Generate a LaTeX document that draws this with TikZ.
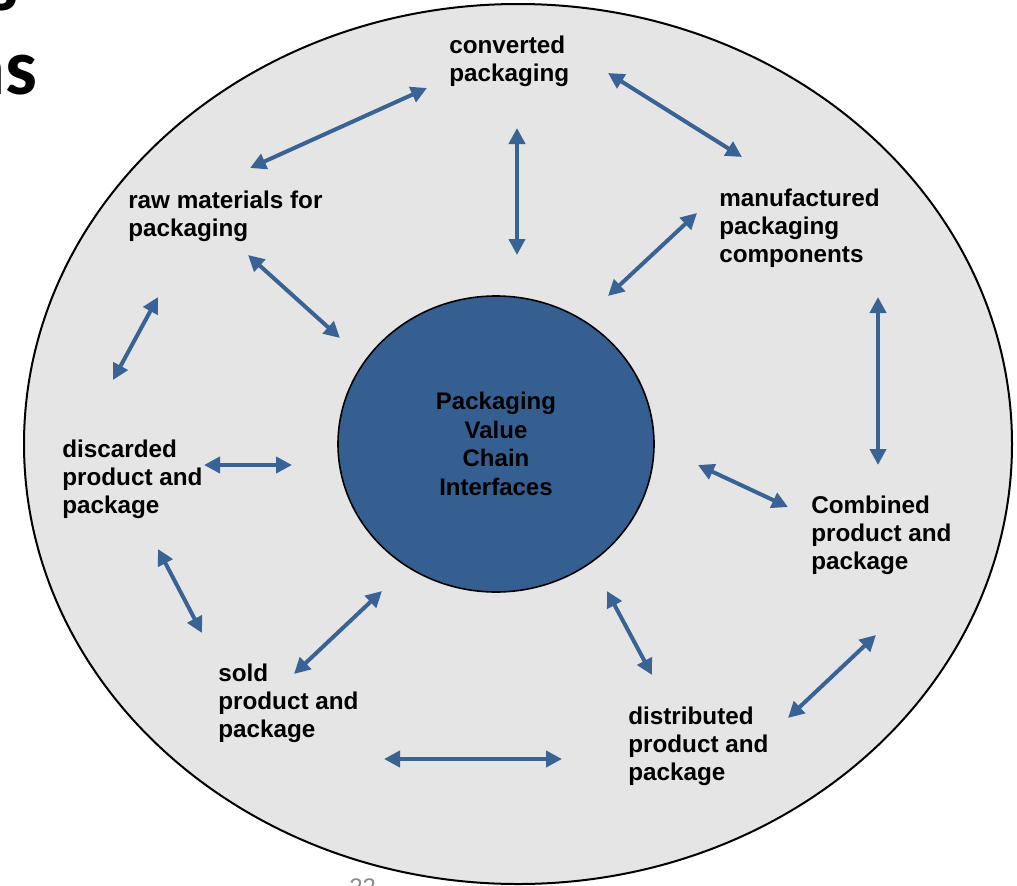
\documentclass[tikz,border=0pt]{standalone}
\usepackage{fontspec}
\setmainfont{Liberation Sans}
\newfontfamily\titlefont{Carlito}
\usepackage{tikz}
\usetikzlibrary{arrows.meta}
\usetikzlibrary{shapes.geometric}
\definecolor{ringgray}{RGB}{229,229,229}
\definecolor{chainblue}{RGB}{54,95,145}
\definecolor{arrowblue}{RGB}{57,99,149}

\begin{document}
\begin{tikzpicture}[x=0.75pt,y=-0.75pt]
	\clip (0,0) rectangle (1017,885);

	\begin{scope}[every node/.style={anchor=base east,inner sep=0pt,font=\titlefont\bfseries\fontsize{60}{60}\selectfont}]
		\node (titleone) at (19,11) {s};
		\node (titletwo) at (38,94) {ns};
	\end{scope}
	\node [anchor=base west,inner sep=0pt,text=black!45,font=\fontsize{18}{18}\selectfont] (pageno) at (349,895) {22};

	\draw [fill=ringgray,line width=1.5pt] (518,444) ellipse [x radius=494,y radius=440];

	\node [ellipse,draw,line width=1.2pt,fill=chainblue,minimum width=237pt,minimum height=222pt,
		align=center,font=\bfseries\fontsize{18}{21.4}\selectfont] (pvc) at (496,444)
		{Packaging\\Value\\Chain\\Interfaces};

	% labels are placed by the baseline of their last line
	\begin{scope}[every node/.style={align=left,anchor=base west,inner sep=0pt,font=\bfseries\fontsize{18.2}{21}\selectfont}]
		\node (conv) at (449,81) {converted\\packaging};
		\node (raw) at (128,236) {raw materials for\\packaging};
		\node (manu) at (719,262) {manufactured\\packaging\\components};
		\node (disc) at (62,513) {discarded\\product and\\package};
		\node (comb) at (811,569) {Combined\\product and\\package};
		\node (dist) at (628,780) {distributed\\product and\\package};
		\node (sold) at (218,737) {sold\\product and\\package};
	\end{scope}

	\coordinate (raw-conv) at (250,168);
	\coordinate (conv-raw) at (427,88);
	\coordinate (conv-pvc) at (517,128);
	\coordinate (pvc-conv) at (517,255);
	\coordinate (conv-manu) at (608,73);
	\coordinate (manu-conv) at (742,157);
	\coordinate (manu-pvc) at (697,213);
	\coordinate (pvc-manu) at (608,296);
	\coordinate (manu-comb) at (878,297);
	\coordinate (comb-manu) at (878,465);
	\coordinate (pvc-comb) at (698,465);
	\coordinate (comb-pvc) at (788,507);
	\coordinate (comb-dist) at (876,635);
	\coordinate (dist-comb) at (788,718);
	\coordinate (pvc-dist) at (607,591);
	\coordinate (dist-pvc) at (652,675);
	\coordinate (dist-sold) at (562,759);
	\coordinate (sold-dist) at (384,759);
	\coordinate (sold-pvc) at (294,674);
	\coordinate (pvc-sold) at (382,591);
	\coordinate (disc-sold) at (158,549);
	\coordinate (sold-disc) at (202,633);
	\coordinate (disc-pvc) at (204,465);
	\coordinate (pvc-disc) at (292,465);
	\coordinate (raw-disc) at (158,297);
	\coordinate (disc-raw) at (113,380);
	\coordinate (raw-pvc) at (248,255);
	\coordinate (pvc-raw) at (340,338);

	\begin{scope}[>={Triangle[length=12pt,width=12pt]},<->,arrowblue,line width=3pt]
		\path (raw-conv) edge node {} (conv-raw);
		\path (conv-pvc) edge node {} (pvc-conv);
		\path (conv-manu) edge node {} (manu-conv);
		\path (manu-pvc) edge node {} (pvc-manu);
		\path (manu-comb) edge node {} (comb-manu);
		\path (pvc-comb) edge node {} (comb-pvc);
		\path (comb-dist) edge node {} (dist-comb);
		\path (pvc-dist) edge node {} (dist-pvc);
		\path (dist-sold) edge node {} (sold-dist);
		\path (sold-pvc) edge node {} (pvc-sold);
		\path (disc-sold) edge node {} (sold-disc);
		\path (disc-pvc) edge node {} (pvc-disc);
		\path (raw-disc) edge node {} (disc-raw);
		\path (raw-pvc) edge node {} (pvc-raw);
	\end{scope}
\end{tikzpicture}
\end{document}
